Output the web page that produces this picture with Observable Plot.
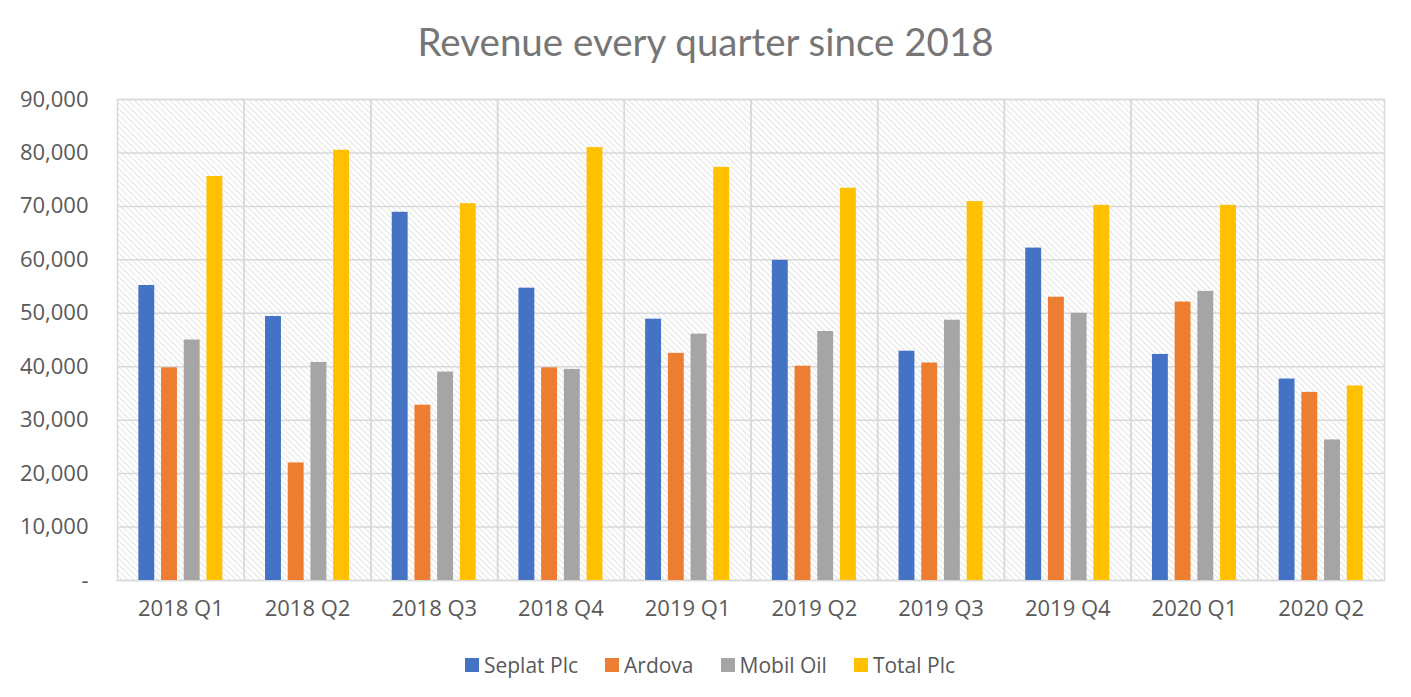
<!DOCTYPE html>
<html>
<head>
<meta charset="utf-8">
<script src="https://cdn.jsdelivr.net/npm/d3@7"></script>
<script src="https://cdn.jsdelivr.net/npm/@observablehq/plot@0.6"></script>
<style>
  html, body { margin: 0; padding: 0; background: #fff; }
  body { width: 1411px; height: 697px; overflow: hidden; font-family: "Open Sans", sans-serif; }
  #title { height: 80px; line-height: 82px; text-align: center; font-family: Lato, "Open Sans", sans-serif; font-size: 38.5px; color: #767676; }
  #legend { display: flex; justify-content: center; align-items: center; height: 50px; font-size: 21px; color: #595959; padding-left: 9px; }
  .item { display: flex; align-items: center; margin: 0 13.5px; }
  .sw { width: 14px; height: 14px; margin-right: 5px; }
</style>
</head>
<body>
<div id="title">Revenue every quarter since 2018</div>
<div id="chart"></div>
<div id="legend"></div>
<script>
const quarters = ["2018 Q1","2018 Q2","2018 Q3","2018 Q4","2019 Q1","2019 Q2","2019 Q3","2019 Q4","2020 Q1","2020 Q2"];
const companies = ["Seplat Plc","Ardova","Mobil Oil","Total Plc"];
const colors = ["#4472C4","#ED7D31","#A5A5A5","#FFC000"];
const seplat = [55200, 49400, 68900, 54700, 48900, 59900, 42900, 62200, 42300, 37700];
const ardova = [39800, 22000, 32800, 39800, 42500, 40100, 40700, 53000, 52100, 35200];
const mobil  = [45000, 40800, 39000, 39500, 46100, 46600, 48700, 50000, 54100, 26300];
const total  = [75600, 80500, 70500, 81000, 77300, 73400, 70900, 70200, 70200, 36400];
const yTicks = [0,10000,20000,30000,40000,50000,60000,70000,80000,90000];

const series = [seplat, ardova, mobil, total];
const data = [];
quarters.forEach((q, i) => {
  companies.forEach((c, j) => data.push({quarter: q, company: c, value: series[j][i]}));
});

const chart = Plot.plot({
  width: 1411,
  height: 560,
  marginTop: 19,
  marginBottom: 60,
  marginLeft: 117,
  marginRight: 27,
  style: {fontFamily: "'Open Sans', sans-serif", fontSize: "22px", color: "#595959", background: "transparent"},
  fx: {domain: quarters, padding: 0, round: false, label: null, axis: null},
  x: {domain: companies, paddingInner: 0.3, paddingOuter: 0.94, round: false, axis: null},
  y: {domain: [0, 90000], label: null, axis: null},
  color: {domain: companies, range: colors},
  marks: [
    Plot.frame({fill: "url(#hatch)", stroke: null}),
    Plot.gridY(yTicks, {stroke: "#d9d9d9", strokeOpacity: 1, strokeWidth: 1.5}),
    Plot.frame({stroke: "#d9d9d9", strokeWidth: 1.5}),
    Plot.barY(data, {fx: "quarter", x: "company", y: "value", fill: "company"}),
    Plot.axisY(yTicks, {anchor: "left", tickSize: 0, tickPadding: 29, fontSize: 22, tickFormat: d => d === 0 ? "-" : d3.format(",")(d), fill: "#595959", label: null}),
    Plot.axisFx({anchor: "bottom", tickSize: 0, tickPadding: 20, fontSize: 22, fill: "#595959", label: null})
  ]
});

chart.insertAdjacentHTML("afterbegin",
  `<defs><pattern id="hatch" patternUnits="userSpaceOnUse" width="6" height="6">
     <rect width="6" height="6" fill="#ffffff"/>
     <path d="M-1,-1 L7,7 M-1,5 L1,7 M5,-1 L7,1" stroke="#d6d6d6" stroke-width="1"/>
   </pattern></defs>`);
document.getElementById("chart").appendChild(chart);

const legend = document.getElementById("legend");
companies.forEach((c, i) => {
  const item = document.createElement("div");
  item.className = "item";
  item.innerHTML = `<span class="sw" style="background:${colors[i]}"></span><span>${c}</span>`;
  legend.appendChild(item);
});
</script>
</body>
</html>
